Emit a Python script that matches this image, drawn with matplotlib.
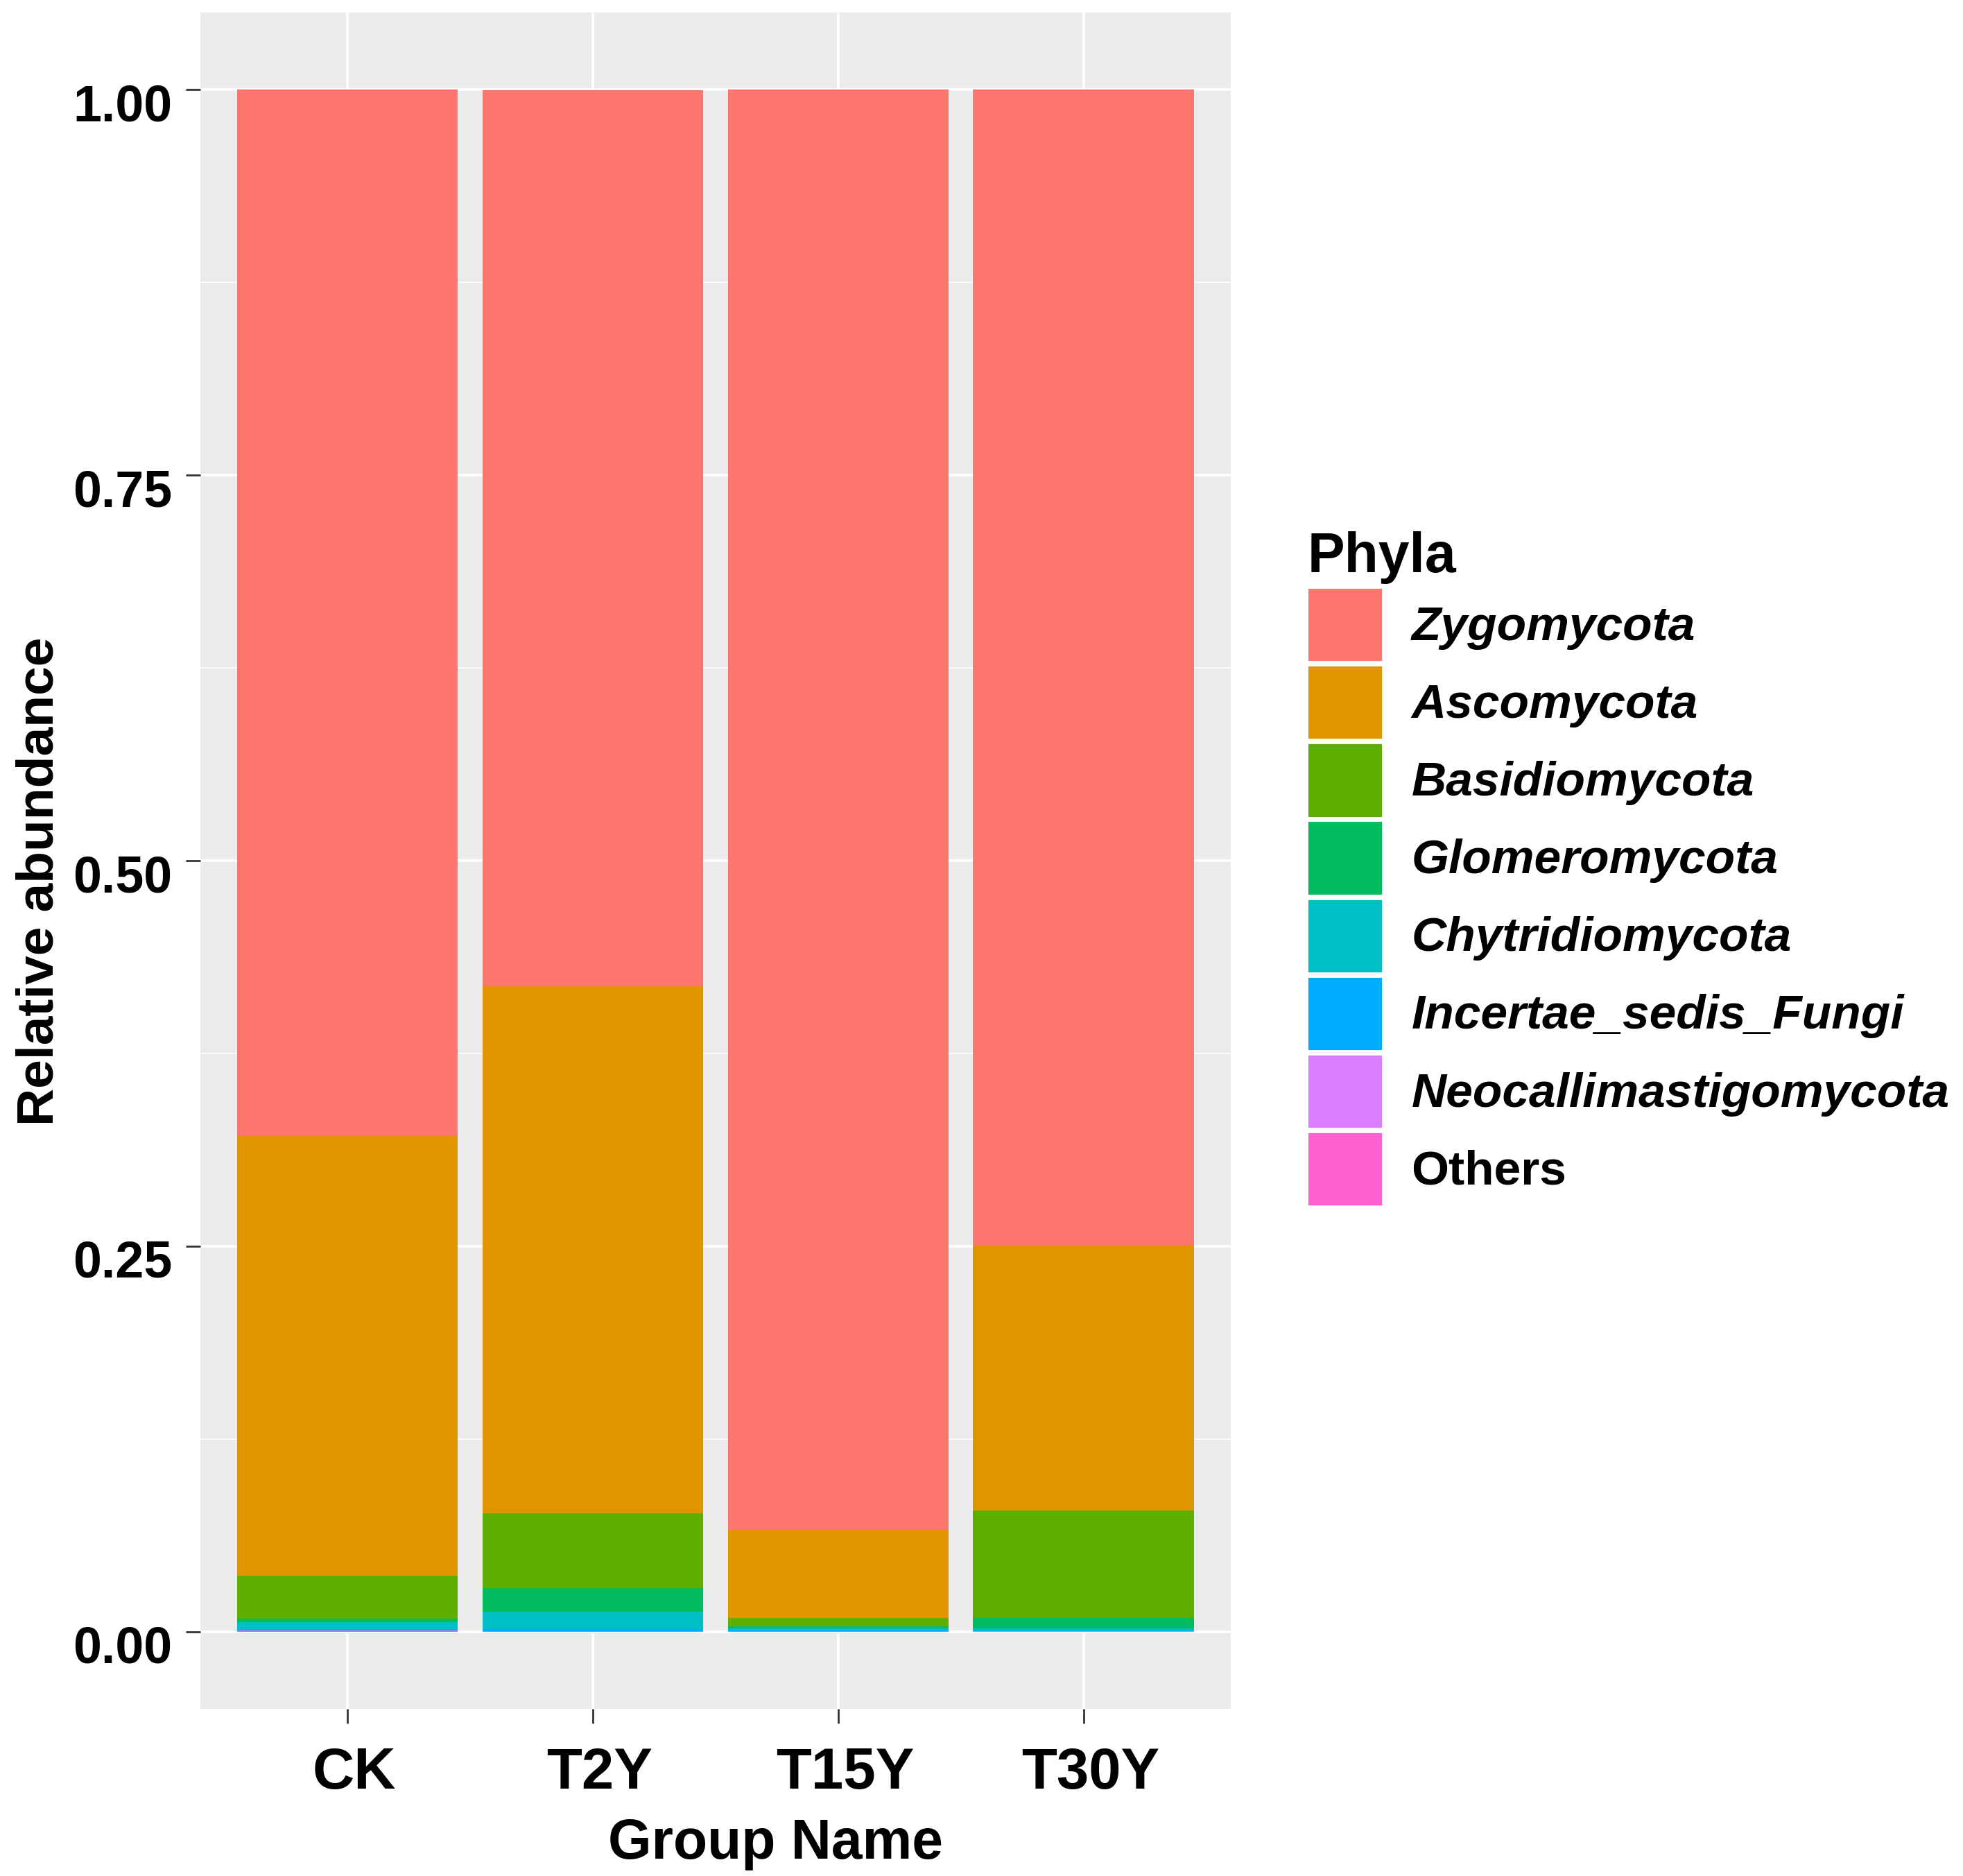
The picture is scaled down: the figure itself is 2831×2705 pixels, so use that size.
import matplotlib.pyplot as plt
from matplotlib.patches import Patch
from matplotlib.ticker import MultipleLocator
from matplotlib.transforms import ScaledTranslation
import numpy as np

plt.rcParams['font.family'] = ['Liberation Sans', 'DejaVu Sans']
plt.rcParams['font.weight'] = 'bold'

# data (relative abundance per group)
groups = ['CK', 'T2Y', 'T15Y', 'T30Y']
phyla = ['Zygomycota', 'Ascomycota', 'Basidiomycota', 'Glomeromycota',
         'Chytridiomycota', 'Incertae_sedis_Fungi', 'Neocallimastigomycota', 'Others']
zygomycota = [0.679, 0.581, 0.934, 0.7496]
ascomycota = [0.285, 0.342, 0.057, 0.1719]
basidiomycota = [0.0277, 0.0484, 0.0055, 0.0698]
glomeromycota = [0.0025, 0.0153, 0.0012, 0.0065]
chytridiomycota = [0.0045, 0.0115, 0.0012, 0.0012]
incertae = [0.0007, 0.0012, 0.0008, 0.0008]
neocalli = [0.0002, 0.0001, 0.0001, 0.0001]
others = [0.0007, 0.0002, 0.0002, 0.0001]
colors = ['#FE776F', '#E09400', '#5EAE00', '#00BC5E',
          '#00BFC4', '#00ACFE', '#DB7DFF', '#FF62D0']

series = [zygomycota, ascomycota, basidiomycota, glomeromycota,
          chytridiomycota, incertae, neocalli, others]

fig = plt.figure(figsize=(28.31, 27.05), dpi=100)
ax = fig.add_axes([0.102, 0.0891, 0.525, 0.9042])
ax.set_facecolor('#EBEBEB')

x = np.arange(1, len(groups) + 1)
bottom = np.zeros(len(groups))
# stack from the bottom: Others first, Zygomycota on top
for vals, col in zip(series[::-1], colors[::-1]):
    ax.bar(x, vals, width=0.9, bottom=bottom, color=col, linewidth=0, zorder=3)
    bottom += np.array(vals)

ax.set_xlim(0.4, 4.6)
ax.set_ylim(-0.05, 1.05)
ax.set_xticks(x)
ax.set_xticklabels(groups)
ax.yaxis.set_major_locator(MultipleLocator(0.25))
ax.yaxis.set_minor_locator(MultipleLocator(0.125))
ax.set_yticks([0, 0.25, 0.5, 0.75, 1.0])
ax.set_yticklabels(['0.00', '0.25', '0.50', '0.75', '1.00'])

ax.grid(which='major', color='white', linewidth=2.6, zorder=0)
ax.grid(which='minor', axis='y', color='white', linewidth=1.2, zorder=0)
ax.set_axisbelow(True)
for s in ax.spines.values():
    s.set_visible(False)

ax.tick_params(axis='both', which='major', length=15, width=2, color='#333333')
ax.tick_params(axis='y', which='minor', length=0)
ax.tick_params(axis='x', labelsize=60, pad=24)
ax.tick_params(axis='y', labelsize=53, pad=14)

# the labels in the original sit a little off their ticks
xoff = ScaledTranslation(0.10, 0, fig.dpi_scale_trans)
yoff = ScaledTranslation(0, -0.18, fig.dpi_scale_trans)
for t in ax.get_xticklabels():
    t.set_fontweight('bold')
    t.set_transform(t.get_transform() + xoff)
for t in ax.get_yticklabels():
    t.set_fontweight('bold')
    t.set_transform(t.get_transform() + yoff)

ax.set_xlabel('Group Name', fontsize=58, fontweight='bold')
ax.xaxis.set_label_coords(0.558, -0.064)
ax.set_ylabel('Relative abundance', fontsize=54, fontweight='bold')
ax.yaxis.set_label_coords(-0.133, 0.488)

handles = [Patch(facecolor=c, edgecolor='white', linewidth=2) for c in colors]
leg = fig.legend(handles, phyla, title='Phyla', loc='upper left',
                 bbox_to_anchor=(0.666, 0.7168), frameon=False,
                 fontsize=50, title_fontsize=58, borderpad=0, borderaxespad=0,
                 handlelength=1.56, handleheight=2.0, labelspacing=0.07,
                 handletextpad=0.6, alignment='left')
leg.get_title().set_fontweight('bold')
for t in leg.get_texts():
    t.set_fontweight('bold')
    if t.get_text() != 'Others':
        t.set_fontstyle('italic')

fig.savefig('out.png', dpi=100, facecolor='white')
